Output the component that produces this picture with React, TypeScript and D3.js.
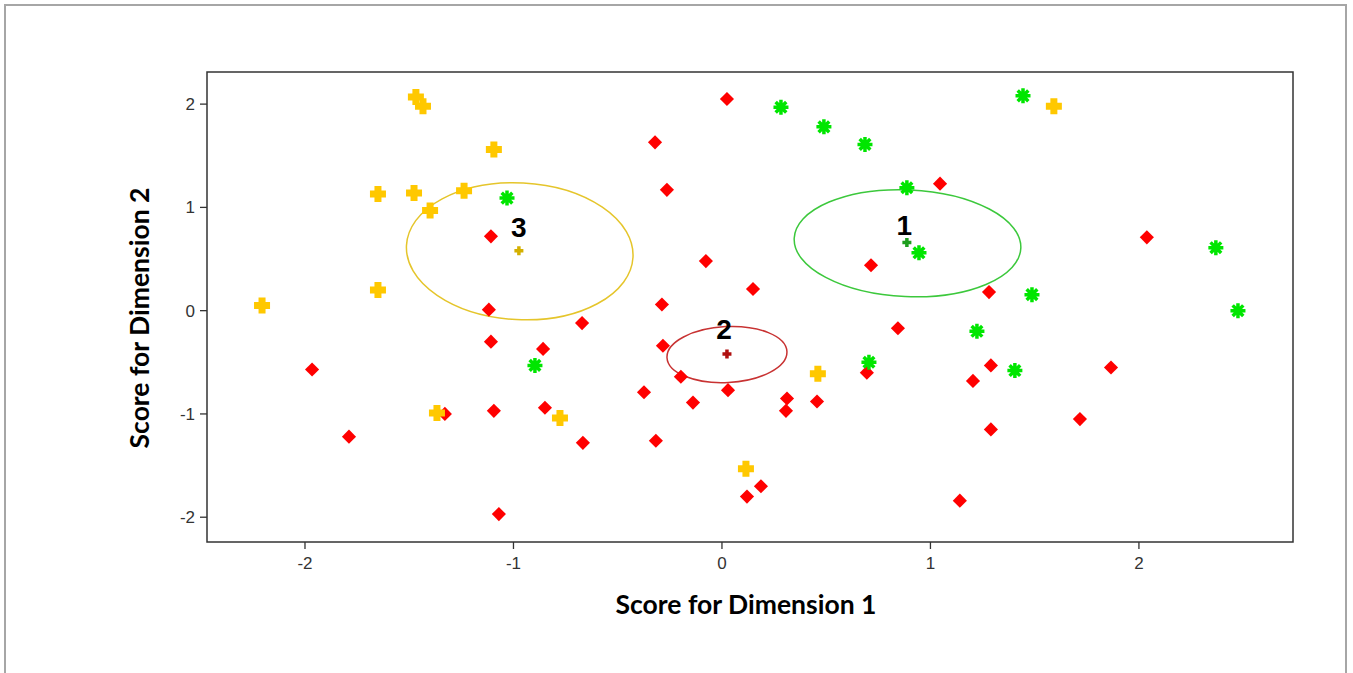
import React from "react"
import * as d3 from "d3"

// cluster 1 (green asterisks)
const cluster1 = [
  [0.283, 1.97], [0.489, 1.78], [0.686, 1.61], [0.887, 1.19], [0.945, 0.56],
  [1.444, 2.08], [2.369, 0.61], [2.475, 0.0], [1.487, 0.155], [1.223, -0.2],
  [1.405, -0.58], [0.705, -0.5], [-0.897, -0.53], [-1.031, 1.09],
]

// cluster 2 (red diamonds)
const cluster2 = [
  [0.024, 2.05], [-0.321, 1.63], [-0.264, 1.17], [-1.108, 0.72], [-0.077, 0.48],
  [-0.288, 0.06], [-1.118, 0.01], [-0.671, -0.12], [0.149, 0.21], [1.046, 1.23],
  [0.715, 0.44], [1.281, 0.18], [0.844, -0.17], [2.038, 0.71], [-1.108, -0.3],
  [-0.858, -0.37], [-0.283, -0.34], [-0.197, -0.64], [-0.374, -0.79], [0.029, -0.77],
  [-0.139, -0.89], [0.312, -0.85], [0.307, -0.97], [0.695, -0.6], [0.456, -0.88],
  [-1.329, -1.0], [-1.094, -0.97], [-0.849, -0.94], [-0.667, -1.28], [-0.317, -1.26],
  [-1.966, -0.57], [-1.789, -1.22], [-1.07, -1.97], [0.12, -1.8], [0.187, -1.7],
  [1.141, -1.84], [1.717, -1.05], [1.866, -0.55], [1.204, -0.68], [1.29, -0.53],
  [1.29, -1.15],
]

// cluster 3 (yellow crosses)
const cluster3 = [
  [-1.468, 2.07], [-1.434, 1.98], [-1.094, 1.56], [-1.65, 1.13], [-1.477, 1.14],
  [-1.4, 0.97], [-1.237, 1.16], [-2.206, 0.05], [-1.65, 0.2], [-1.367, -0.99],
  [-0.777, -1.04], [0.46, -0.61], [0.115, -1.53], [1.592, 1.98],
]

// centroids
const centroids = [
  { id: "1", x: 0.887, y: 0.66, color: "#1e9e1e" },
  { id: "2", x: 0.024, y: -0.42, color: "#b01010" },
  { id: "3", x: -0.974, y: 0.58, color: "#d4b000" },
]

// cluster ellipses: center, radii in data units, rotation (deg)
const ellipses = [
  { id: "1", cx: 0.89, cy: 0.653, rx: 0.544, ry: 0.517, rot: 2.5, color: "#3cc83c" },
  { id: "2", cx: 0.024, cy: -0.425, rx: 0.288, ry: 0.271, rot: -3, color: "#c83232" },
  { id: "3", cx: -0.97, cy: 0.575, rx: 0.544, ry: 0.662, rot: 3, color: "#e5c52b" },
]

const clusterLabels = [
  { id: "1", x: 0.875, y: 0.735 },
  { id: "2", x: 0.01, y: -0.27 },
  { id: "3", x: -0.975, y: 0.716 },
]

const xTicks = [-2, -1, 0, 1, 2]
const yTicks = [-2, -1, 0, 1, 2]

const plot = { left: 207, top: 72, right: 1293, bottom: 542 }

const x = d3.scaleLinear().domain([-2.47, 2.739]).range([plot.left, plot.right])
const y = d3.scaleLinear().domain([-2.24, 2.311]).range([plot.bottom, plot.top])

const plusPath = (span, arm) => {
  const a = span / 2
  const b = arm / 2
  return `M${-b},${-a}H${b}V${-b}H${a}V${b}H${b}V${a}H${-b}V${b}H${-a}V${-b}H${-b}Z`
}

const asteriskPath = (r) => {
  const d = r * Math.SQRT1_2
  return `M0,${-r}V${r}M${-r},0H${r}M${-d},${-d}L${d},${d}M${-d},${d}L${d},${-d}`
}

export default function App() {
  const tickFont = "'Liberation Sans', Arial, sans-serif"
  const titleFont = "Lato, 'Open Sans', sans-serif"

  return (
    <svg
      width={1353}
      height={673}
      style={{ position: "absolute", left: 0, top: 0, background: "#ffffff" }}
    >
      {/* outer frame */}
      <rect x={5} y={5} width={1341} height={700} fill="none" stroke="#a6a6a6" strokeWidth={2} />

      {/* ellipses */}
      {ellipses.map((e) => {
        const cx = x(e.cx)
        const cy = y(e.cy)
        return (
          <ellipse
            key={"e" + e.id}
            cx={cx}
            cy={cy}
            rx={x(e.cx + e.rx) - cx}
            ry={cy - y(e.cy + e.ry)}
            transform={`rotate(${e.rot},${cx},${cy})`}
            fill="none"
            stroke={e.color}
            strokeWidth={1.5}
          />
        )
      })}

      {/* cluster 2 diamonds */}
      {cluster2.map((d, i) => (
        <rect
          key={"r" + i}
          x={-5}
          y={-5}
          width={10}
          height={10}
          fill="#ff0000"
          transform={`translate(${x(d[0])},${y(d[1])}) rotate(45)`}
        />
      ))}

      {/* cluster 3 crosses */}
      {cluster3.map((d, i) => (
        <path
          key={"y" + i}
          d={plusPath(16, 7)}
          fill="#ffc800"
          transform={`translate(${x(d[0])},${y(d[1])})`}
        />
      ))}

      {/* cluster 1 asterisks */}
      {cluster1.map((d, i) => (
        <path
          key={"g" + i}
          d={asteriskPath(7.5)}
          fill="none"
          stroke="#00e600"
          strokeWidth={3.5}
          transform={`translate(${x(d[0])},${y(d[1])})`}
        />
      ))}

      {/* centroids */}
      {centroids.map((c) => (
        <path
          key={"c" + c.id}
          d={plusPath(9, 3.5)}
          fill={c.color}
          transform={`translate(${x(c.x)},${y(c.y)})`}
        />
      ))}

      {/* cluster labels */}
      {clusterLabels.map((l) => (
        <text
          key={"l" + l.id}
          x={x(l.x)}
          y={y(l.y)}
          textAnchor="middle"
          fontFamily={tickFont}
          fontWeight="bold"
          fontSize={28}
          fill="#000000"
        >
          {l.id}
        </text>
      ))}

      {/* plot border */}
      <rect
        x={plot.left}
        y={plot.top}
        width={plot.right - plot.left}
        height={plot.bottom - plot.top}
        fill="none"
        stroke="#333333"
        strokeWidth={1.5}
      />

      {/* x axis */}
      {xTicks.map((t) => (
        <g key={"xt" + t}>
          <line x1={x(t)} x2={x(t)} y1={plot.bottom} y2={plot.bottom + 7} stroke="#333333" strokeWidth={1.3} />
          <text
            x={x(t)}
            y={plot.bottom + 27}
            textAnchor="middle"
            fontFamily={tickFont}
            fontSize={17}
            fill="#333333"
          >
            {t}
          </text>
        </g>
      ))}

      {/* y axis */}
      {yTicks.map((t) => (
        <g key={"yt" + t}>
          <line x1={plot.left - 7} x2={plot.left} y1={y(t)} y2={y(t)} stroke="#333333" strokeWidth={1.3} />
          <text
            x={plot.left - 12}
            y={y(t)}
            dy="0.35em"
            textAnchor="end"
            fontFamily={tickFont}
            fontSize={17}
            fill="#333333"
          >
            {t}
          </text>
        </g>
      ))}

      {/* axis titles */}
      <text
        x={746}
        y={614}
        textAnchor="middle"
        fontFamily={titleFont}
        fontWeight="bold"
        fontSize={26.5}
        fill="#000000"
      >
        Score for Dimension 1
      </text>
      <text
        transform="translate(149,318) rotate(-90)"
        textAnchor="middle"
        fontFamily={titleFont}
        fontWeight="bold"
        fontSize={26.5}
        fill="#000000"
      >
        Score for Dimension 2
      </text>
    </svg>
  )
}
